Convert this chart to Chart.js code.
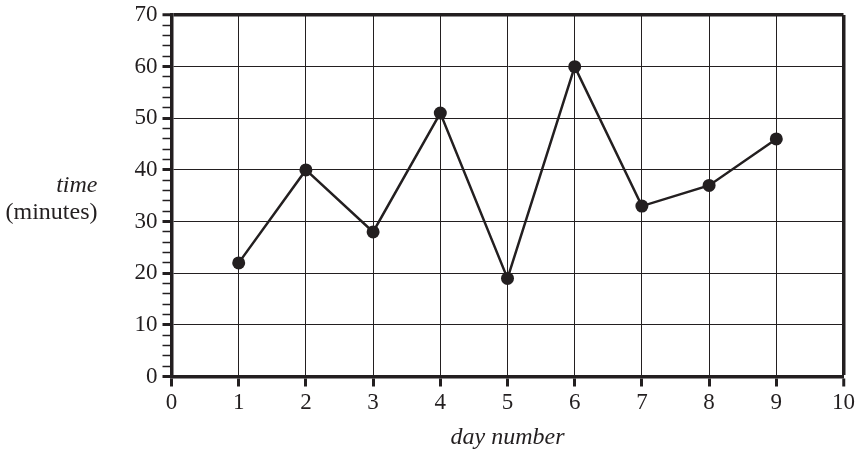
<!DOCTYPE html>
<html>
<head>
<meta charset="utf-8">
<script src="https://cdn.jsdelivr.net/npm/chart.js@4"></script>
<style>
  html, body { margin: 0; padding: 0; background: #fff; }
  canvas { display: block; }
</style>
</head>
<body>
<canvas id="chart" width="862" height="453"></canvas>
<script>
const days = [1, 2, 3, 4, 5, 6, 7, 8, 9];
const times = [22, 40, 28, 51, 19, 60, 33, 37, 46];

const xMin = 0, xMax = 10, xStep = 1;
const yMin = 0, yMax = 70, yMajor = 10, yMinor = 2;

const ink = "#231f20";
const serif = "'Liberation Serif', 'Times New Roman', serif";

// horizontal y title + x title, drawn beside the plot area
const axisTitles = {
  id: "axisTitles",
  afterDraw(chart) {
    const ctx = chart.ctx;
    const a = chart.chartArea;
    ctx.save();
    ctx.fillStyle = ink;
    ctx.textBaseline = "alphabetic";
    ctx.textAlign = "right";
    ctx.font = "italic 24px " + serif;
    ctx.fillText("time", a.left - 74, 192);
    ctx.font = "24px " + serif;
    ctx.fillText("(minutes)", a.left - 74, 219);
    ctx.textAlign = "center";
    ctx.font = "italic 24px " + serif;
    ctx.fillText("day number", (a.left + a.right) / 2, 444);
    ctx.restore();
  }
};

new Chart(document.getElementById("chart"), {
  type: "line",
  data: {
    datasets: [{
      data: days.map((d, i) => ({ x: d, y: times[i] })),
      borderColor: ink,
      borderWidth: 2.5,
      pointRadius: 6.5,
      pointBackgroundColor: ink,
      pointBorderWidth: 0,
      tension: 0,
      fill: false
    }]
  },
  options: {
    responsive: false,
    animation: false,
    layout: { padding: { top: 15, right: 18.5, left: 0, bottom: 0 } },
    plugins: {
      legend: { display: false },
      tooltip: { enabled: false }
    },
    scales: {
      x: {
        type: "linear",
        min: xMin,
        max: xMax,
        afterFit: s => { s.height = 76.5; s.paddingLeft = 0; s.paddingRight = 0; },
        ticks: {
          stepSize: xStep,
          autoSkip: false,
          maxRotation: 0,
          padding: 3,
          color: ink,
          font: { family: serif, size: 23 }
        },
        grid: {
          color: ink,
          lineWidth: c => (c.tick && c.tick.value === xMax ? 3.5 : 1),
          tickColor: ink,
          tickWidth: 3,
          tickLength: 10
        },
        border: { display: true, color: ink, width: 3.5 }
      },
      y: {
        min: yMin,
        max: yMax,
        afterFit: s => { s.width = 171.5; s.paddingTop = 0; s.paddingBottom = 0; },
        ticks: {
          stepSize: yMinor,
          autoSkip: false,
          padding: 5,
          color: ink,
          font: { family: serif, size: 23 },
          callback: v => (v % yMajor === 0 ? v : "")
        },
        grid: {
          color: c => (c.tick && c.tick.value % yMajor === 0 ? ink : "rgba(0,0,0,0)"),
          lineWidth: c => (c.tick && c.tick.value === yMax ? 3.5 : 1),
          tickColor: ink,
          tickWidth: c => (c.tick && c.tick.value % yMajor === 0 ? 3 : 1.5),
          tickLength: 9
        },
        border: { display: true, color: ink, width: 3.5 }
      }
    }
  },
  plugins: [axisTitles]
});
</script>
</body>
</html>
